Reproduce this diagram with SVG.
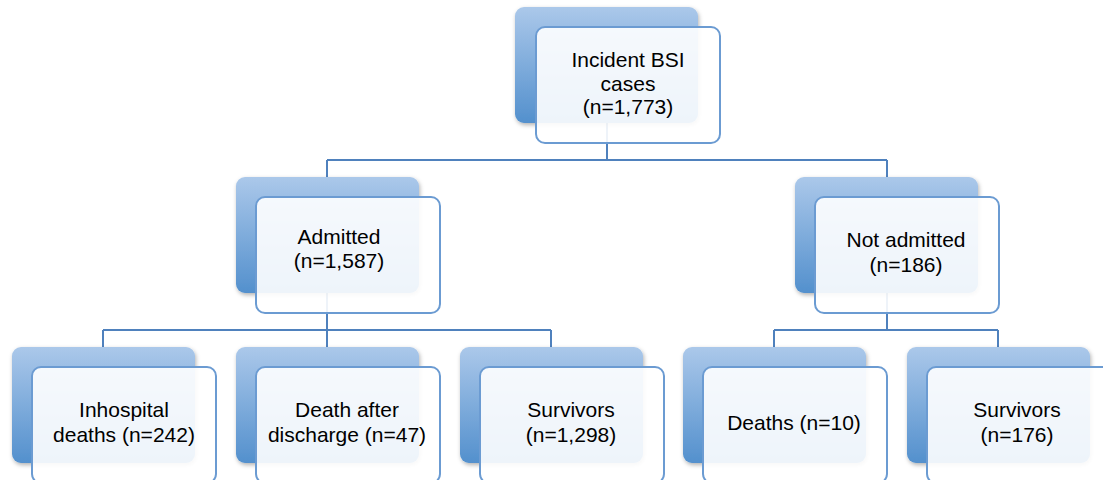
<svg xmlns="http://www.w3.org/2000/svg" width="1103" height="480" viewBox="0 0 1103 480">
<style>
.back{fill:url(#g);filter:url(#sh)}
.front{fill:#ffffff;fill-opacity:0.9;stroke:#6b9bd2;stroke-width:2}
.conn{fill:none;stroke:#4f81bd;stroke-width:2}
text{font-family:"Liberation Sans",Arial,sans-serif;font-size:21px;fill:#000;text-anchor:middle}
</style>
<defs>
<linearGradient id="g" x1="0" y1="0" x2="0" y2="1">
<stop offset="0" stop-color="#abc8ea"/>
<stop offset="1" stop-color="#5390cd"/>
</linearGradient>
<filter id="sh" x="-10%" y="-10%" width="125%" height="125%">
<feDropShadow dx="1" dy="2" stdDeviation="2" flood-color="#000" flood-opacity="0.3"/>
</filter>
</defs>
<rect width="1103" height="480" fill="#fff"/>
<g id="connectors">
<path class="conn" d="M607 120V160M327 160H887M327 160V180M887 160V180"/>
<path class="conn" d="M327 290V330M103 330H551M103 330V350M327 330V350M551 330V350"/>
<path class="conn" d="M887 290V330M774 330H998M774 330V350M998 330V350"/>
</g>
<g id="n-incident">
<rect class="back" x="515" y="7" width="183" height="116" rx="9"/>
<rect class="front" x="536" y="27" width="184" height="116" rx="9"/>
<text x="628" y="67">Incident BSI</text>
<text x="628" y="90.5">cases</text>
<text x="628" y="114">(n=1,773)</text>
</g>
<g id="n-admitted">
<rect class="back" x="236" y="177" width="183" height="116" rx="9"/>
<rect class="front" x="256" y="197" width="184" height="116" rx="9"/>
<text x="339" y="244">Admitted</text>
<text x="339" y="268">(n=1,587)</text>
</g>
<g id="n-notadmitted">
<rect class="back" x="795" y="177" width="183" height="116" rx="9"/>
<rect class="front" x="815" y="197" width="184" height="116" rx="9"/>
<text x="906" y="247">Not admitted</text>
<text x="906" y="272">(n=186)</text>
</g>
<g id="n-inhospital">
<rect class="back" x="12" y="347" width="183" height="116" rx="9"/>
<rect class="front" x="32" y="367" width="184" height="116" rx="9"/>
<text x="124" y="417">Inhospital</text>
<text x="124" y="442">deaths (n=242)</text>
</g>
<g id="n-deathafter">
<rect class="back" x="236" y="347" width="183" height="116" rx="9"/>
<rect class="front" x="256" y="367" width="184" height="116" rx="9"/>
<text x="347" y="417">Death after</text>
<text x="347" y="442">discharge (n=47)</text>
</g>
<g id="n-survivors1">
<rect class="back" x="460" y="347" width="183" height="116" rx="9"/>
<rect class="front" x="480" y="367" width="184" height="116" rx="9"/>
<text x="571" y="417">Survivors</text>
<text x="571" y="442">(n=1,298)</text>
</g>
<g id="n-deaths">
<rect class="back" x="683" y="347" width="183" height="116" rx="9"/>
<rect class="front" x="703" y="367" width="184" height="116" rx="9"/>
<text x="794" y="430">Deaths (n=10)</text>
</g>
<g id="n-survivors2">
<rect class="back" x="907" y="347" width="183" height="116" rx="9"/>
<rect class="front" x="927" y="367" width="184" height="116" rx="9"/>
<text x="1017" y="417">Survivors</text>
<text x="1017" y="442">(n=176)</text>
</g>
</svg>
